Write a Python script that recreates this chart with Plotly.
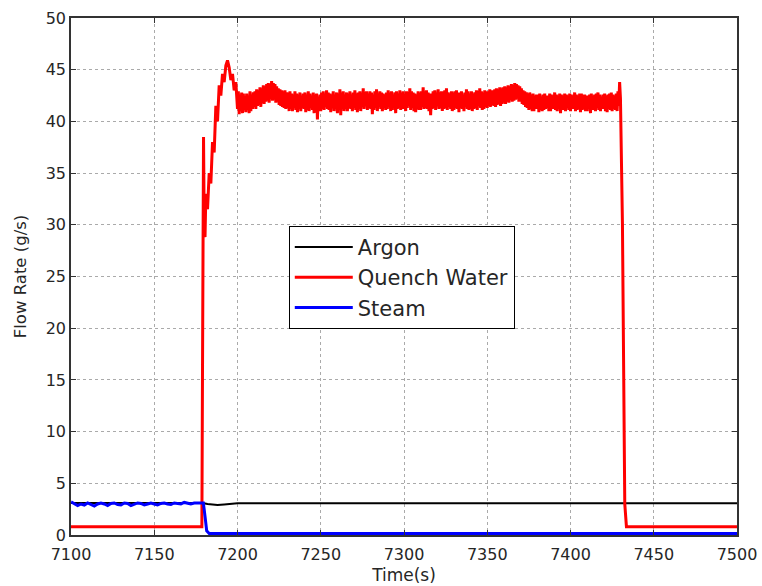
import numpy as np
import plotly.graph_objects as go

# ---------------- data ----------------
# Argon
argon_t = [7100, 7179, 7182, 7185, 7188, 7192, 7196, 7200, 7250, 7300, 7350, 7400, 7450, 7500]
argon_v = [3.1, 3.1, 3.0, 2.92, 2.9, 2.95, 3.02, 3.07, 3.08, 3.08, 3.08, 3.08, 3.08, 3.08]

# Steam
steam_t = [7100, 7102, 7104, 7106, 7108, 7110, 7112, 7114, 7116, 7118, 7120, 7122, 7124,
           7126, 7128, 7130, 7132, 7134, 7136, 7138, 7140, 7142, 7144, 7146, 7148, 7150,
           7152, 7154, 7156, 7158, 7160, 7162, 7164, 7166, 7168, 7170, 7172, 7174, 7176,
           7178, 7179.5, 7180.5, 7181.5, 7183, 7250, 7350, 7450, 7500]
steam_v = [3.2, 3.0, 2.85, 3.0, 2.9, 3.1, 2.95, 2.8, 3.0, 3.1, 3.0, 2.85, 3.05,
           3.1, 2.95, 2.9, 3.1, 3.05, 2.85, 3.0, 3.1, 3.05, 2.9, 3.0, 3.1, 3.0,
           2.9, 3.05, 3.1, 3.0, 2.95, 3.1, 3.05, 3.0, 3.15, 3.05, 3.0, 3.1, 3.1,
           3.15, 3.1, 1.8, 0.4, 0.15, 0.15, 0.15, 0.15, 0.15]

# Quench water: start, rise, plateau (0.5 s samples from 7200), end
qw_start_t = [7100, 7178.6, 7179.0, 7179.3, 7179.6, 7180.0, 7180.5, 7181, 7182, 7183, 7184,
              7185, 7186, 7187, 7188, 7189, 7190, 7191, 7192, 7193, 7194, 7195, 7196,
              7197, 7198, 7199]
qw_start_v = [0.8, 0.8, 16.5, 36.0, 38.5, 30.0, 28.8, 33.0, 31.5, 35.0, 34.0,
              38.0, 37.0, 41.5, 40.0, 43.5, 42.5, 44.6, 43.8, 45.4, 45.9, 45.2, 44.0,
              44.6, 43.0, 43.8]
qw_plateau_start = 7200
qw_plateau_step = 0.5
qw_plateau_v = [
    41.2, 42.9, 40.7, 42.6, 41.0, 42.8, 40.8, 42.7, 41.3, 42.4, 40.9, 42.7, 41.1, 42.5, 40.8, 42.9, 41.0, 42.6, 41.2, 42.8,
    41.4, 42.9, 41.2, 43.1, 41.5, 43.0, 41.6, 43.3, 41.4, 43.2, 41.8, 43.5, 41.7, 43.4, 41.9, 43.6, 42.0, 43.7, 41.8, 43.6,
    42.2, 43.9, 42.0, 43.7, 42.1, 43.6, 41.8, 43.4, 41.9, 43.2, 41.6, 43.1, 41.5, 43.0, 41.4, 42.9, 41.3, 43.0, 41.2, 42.8,
    41.3, 42.8, 41.0, 42.9, 41.2, 42.7, 41.0, 42.6, 41.3, 42.9, 41.1, 42.7, 40.9, 42.6, 41.2, 42.8, 41.0, 42.5, 41.3, 42.7,
    41.2, 42.8, 40.9, 42.6, 41.1, 42.9, 41.0, 42.7, 41.3, 42.5, 41.1, 42.8, 40.8, 42.6, 41.2, 42.7, 40.2, 42.4, 41.0, 42.6,
    41.0, 42.8, 41.2, 42.9, 41.1, 42.7, 41.4, 43.0, 41.2, 42.8, 41.1, 42.7, 40.9, 42.6, 41.3, 42.9, 41.0, 42.6, 41.2, 42.8,
    40.8, 42.7, 41.2, 43.1, 40.6, 42.8, 41.5, 42.9, 41.0, 42.6, 41.2, 42.8, 41.0, 42.7, 41.3, 42.9, 41.2, 42.6, 41.0, 42.8,
    41.3, 43.0, 41.1, 42.7, 40.9, 42.8, 41.2, 42.9, 41.0, 42.6, 41.4, 43.2, 41.2, 42.8, 41.6, 42.9, 41.1, 42.7, 41.3, 42.9,
    41.2, 42.8, 40.7, 42.6, 41.1, 42.9, 41.3, 43.1, 41.0, 42.7, 41.5, 42.9, 41.2, 42.8, 41.0, 42.7, 41.3, 42.6, 41.1, 42.8,
    41.2, 43.0, 41.4, 42.8, 41.0, 42.9, 41.1, 42.6, 41.3, 42.8, 40.8, 42.9, 41.2, 42.7, 41.3, 43.0, 41.1, 42.8, 41.2, 42.9,
    41.2, 42.7, 41.0, 42.9, 41.3, 42.8, 41.5, 43.2, 41.1, 42.9, 41.3, 42.8, 41.0, 42.7, 40.9, 42.6, 41.2, 42.9, 41.1, 42.8,
    41.1, 42.9, 41.4, 43.3, 41.2, 42.9, 41.3, 43.0, 41.2, 42.8, 41.0, 42.7, 40.6, 42.7, 41.2, 42.9, 41.3, 43.0, 41.1, 42.8,
    41.5, 43.1, 41.2, 42.8, 41.3, 42.9, 41.0, 42.9, 41.2, 43.0, 41.3, 43.2, 41.1, 42.8, 41.4, 42.7, 41.2, 42.9, 41.0, 42.8,
    41.1, 42.9, 41.3, 43.0, 41.2, 42.8, 40.9, 42.8, 41.3, 42.9, 41.2, 42.6, 41.0, 42.8, 41.4, 43.1, 41.2, 42.9, 41.1, 42.7,
    41.2, 42.9, 41.0, 42.7, 41.2, 42.8, 41.3, 43.0, 41.1, 42.9, 41.5, 43.2, 41.3, 42.9, 41.1, 42.8, 41.2, 43.0, 41.4, 42.9,
    41.3, 42.9, 41.5, 43.1, 41.4, 43.0, 41.6, 43.0, 41.5, 43.1, 41.4, 43.2, 41.6, 43.1, 41.7, 43.3, 41.5, 43.2, 41.7, 43.3,
    41.8, 43.4, 41.7, 43.3, 41.9, 43.5, 41.8, 43.4, 42.1, 43.6, 41.9, 43.5, 42.0, 43.7, 42.1, 43.6, 42.2, 43.5, 41.9, 43.4,
    41.9, 43.2, 41.7, 43.0, 41.6, 42.9, 41.4, 42.8, 41.3, 42.7, 41.1, 42.8, 41.2, 42.6, 41.0, 42.7, 41.0, 42.5, 41.2, 42.6,
    41.2, 42.6, 40.9, 42.7, 41.1, 42.4, 41.0, 42.6, 41.1, 42.7, 41.2, 42.5, 41.3, 42.5, 41.0, 42.7, 41.0, 42.6, 41.2, 42.5,
    41.2, 42.8, 41.1, 42.6, 41.0, 42.5, 41.2, 42.7, 40.8, 42.6, 41.1, 42.5, 41.1, 42.7, 41.0, 42.6, 41.3, 42.5, 41.1, 42.7,
    41.0, 42.6, 41.2, 42.5, 41.2, 42.8, 41.0, 42.6, 41.1, 42.5, 41.2, 42.7, 40.9, 42.7, 41.1, 42.6, 41.2, 42.6, 41.0, 42.5,
    41.0, 42.5, 41.2, 42.6, 40.8, 42.7, 41.1, 42.5, 41.1, 42.6, 41.0, 42.7, 41.3, 42.8, 41.1, 42.6, 41.0, 42.4, 41.2, 42.6,
    41.2, 42.7, 41.0, 42.5, 40.9, 42.6, 41.2, 42.7, 41.1, 42.8, 41.0, 42.6, 41.2, 42.5, 41.1, 42.7, 41.0, 42.9, 41.5, 43.8,
    42.2,
]
qw_end_t = [7431.2, 7432.6, 7433.6, 7500]
qw_end_v = [30.0, 3.0, 0.8, 0.8]

x_ticks = [7100, 7150, 7200, 7250, 7300, 7350, 7400, 7450, 7500]
y_ticks = [0, 5, 10, 15, 20, 25, 30, 35, 40, 45, 50]

# ---------------- build ----------------
qw_plateau_t = list(qw_plateau_start + qw_plateau_step * np.arange(len(qw_plateau_v)))
qw_t = qw_start_t + qw_plateau_t + qw_end_t
qw_v = qw_start_v + qw_plateau_v + qw_end_v

FONT = "DejaVu Sans"
TXT = "#262626"
fig = go.Figure()
fig.add_trace(go.Scatter(x=argon_t, y=argon_v, mode="lines", name="Argon",
                         line=dict(color="black", width=2), legendgroup="a"))
fig.add_trace(go.Scatter(x=qw_t, y=qw_v, mode="lines", name="Quench Water",
                         line=dict(color="#ff0000", width=3), legendgroup="b"))
fig.add_trace(go.Scatter(x=steam_t, y=steam_v, mode="lines", name="Steam",
                         line=dict(color="#0000ff", width=3), legendgroup="c"))

axis_common = dict(
    showline=True, linecolor="#333333", linewidth=1.5, mirror="ticks",
    ticks="inside", ticklen=5, tickcolor="#333333",
    showgrid=True, gridcolor="#aaaaaa", griddash="dot", gridwidth=1,
    zeroline=False, automargin=False,
    tickfont=dict(family=FONT, size=16, color=TXT),
)
fig.update_xaxes(range=[7100, 7500], tickvals=x_ticks, ticktext=[str(v) for v in x_ticks],
                 ticklabelstandoff=4,
                 title=dict(text="Time(s)", font=dict(family=FONT, size=17, color=TXT),
                            standoff=6), **axis_common)
fig.update_yaxes(range=[0, 50], tickvals=y_ticks, ticktext=[str(v) for v in y_ticks],
                 title=dict(text="Flow Rate (g/s)", font=dict(family=FONT, size=16.5, color=TXT),
                            standoff=15), **axis_common)

fig.update_layout(
    width=762, height=586,
    margin=dict(l=71, r=25, t=18, b=51),
    plot_bgcolor="white", paper_bgcolor="white",
    font=dict(family=FONT, color=TXT),
    legend=dict(x=0.327, y=0.598, xanchor="left", yanchor="top",
                bgcolor="white", bordercolor="black", borderwidth=1,
                font=dict(family=FONT, size=21, color=TXT),
                itemwidth=58, tracegroupgap=0),
    showlegend=True,
)

fig.write_html("out.html")
